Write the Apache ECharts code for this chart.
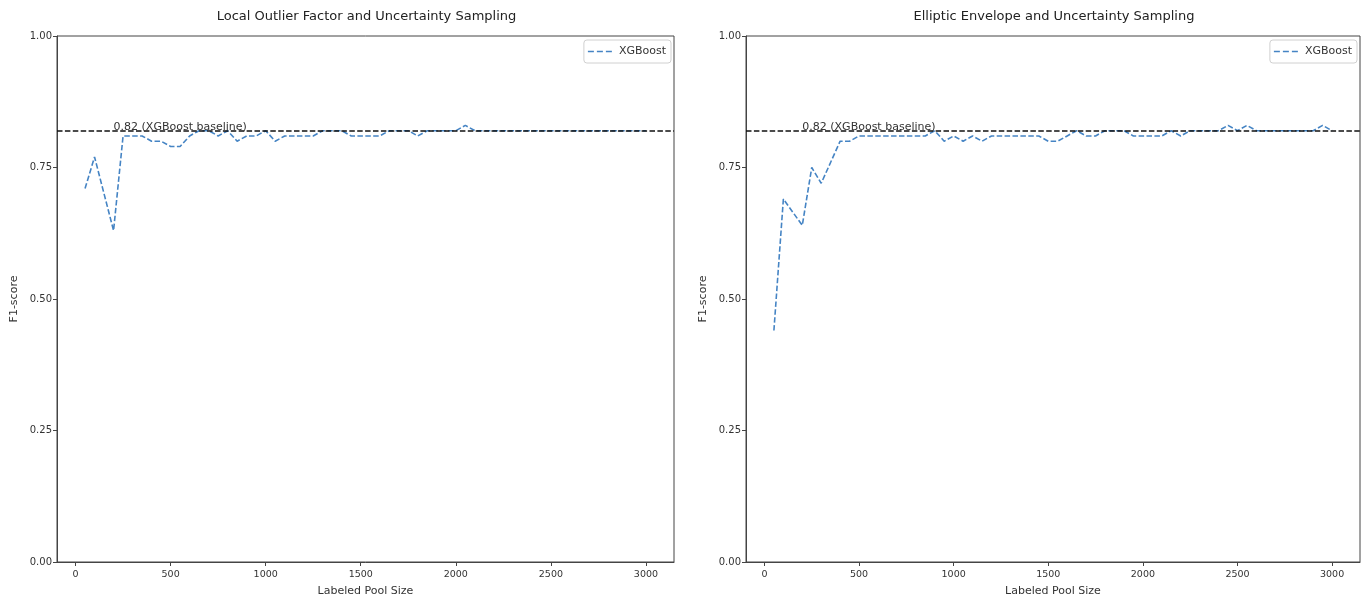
<!DOCTYPE html>
<html>
<head>
<meta charset="utf-8">
<title>F1-score vs Labeled Pool Size</title>
<script src="https://cdn.jsdelivr.net/npm/echarts@6/dist/echarts.min.js"></script>
<style>
  html, body { margin: 0; padding: 0; background: #fff; }
  #chart { width: 1368px; height: 599px; }
</style>
</head>
<body>
<div id="chart"></div>
<script>
// Labeled pool sizes shared by both panels
const poolSizes = [
  50, 100, 150, 200, 250, 300, 350, 400, 450, 500,
  550, 600, 650, 700, 750, 800, 850, 900, 950, 1000,
  1050, 1100, 1150, 1200, 1250, 1300, 1350, 1400, 1450, 1500,
  1550, 1600, 1650, 1700, 1750, 1800, 1850, 1900, 1950, 2000,
  2050, 2100, 2150, 2200, 2250, 2300, 2350, 2400, 2450, 2500,
  2550, 2600, 2650, 2700, 2750, 2800, 2850, 2900, 2950, 3000
];

// XGBoost F1-score, Local Outlier Factor + uncertainty sampling
const lofScores = [
  0.71, 0.77, 0.70, 0.63, 0.81, 0.81, 0.81, 0.80, 0.80, 0.79,
  0.79, 0.81, 0.82, 0.82, 0.81, 0.82, 0.80, 0.81, 0.81, 0.82,
  0.80, 0.81, 0.81, 0.81, 0.81, 0.82, 0.82, 0.82, 0.81, 0.81,
  0.81, 0.81, 0.82, 0.82, 0.82, 0.81, 0.82, 0.82, 0.82, 0.82,
  0.83, 0.82, 0.82, 0.82, 0.82, 0.82, 0.82, 0.82, 0.82, 0.82,
  0.82, 0.82, 0.82, 0.82, 0.82, 0.82, 0.82, 0.82, 0.82, 0.82
];

// XGBoost F1-score, Elliptic Envelope + uncertainty sampling
const eeScores = [
  0.44, 0.69, 0.665, 0.64, 0.75, 0.72, 0.76, 0.80, 0.80, 0.81,
  0.81, 0.81, 0.81, 0.81, 0.81, 0.81, 0.81, 0.82, 0.80, 0.81,
  0.80, 0.81, 0.80, 0.81, 0.81, 0.81, 0.81, 0.81, 0.81, 0.80,
  0.80, 0.81, 0.82, 0.81, 0.81, 0.82, 0.82, 0.82, 0.81, 0.81,
  0.81, 0.81, 0.82, 0.81, 0.82, 0.82, 0.82, 0.82, 0.83, 0.82,
  0.83, 0.82, 0.82, 0.82, 0.82, 0.82, 0.82, 0.82, 0.83, 0.82
];

const baselineF1 = 0.82;
const baselineText = '0.82 (XGBoost baseline)';
const baselineTextX = 200;

const panelTitles = [
  'Local Outlier Factor and Uncertainty Sampling',
  'Elliptic Envelope and Uncertainty Sampling'
];
const xTicks = [0, 500, 1000, 1500, 2000, 2500, 3000];
const yTicks = [0, 0.25, 0.5, 0.75, 1];
const seriesName = 'XGBoost';

const FONT = 'DejaVu Sans';
const TEXT = '#333';
const FRAME = '#444';
const BLUE = '#4584c4';

// three short dashes, used as the legend key of the dashed line
const DASH_ICON = 'path://M0,0h6v1.6h-6z M9,0h6v1.6h-6z M18,0h6v1.6h-6z';

const grids = [
  { left: 57, top: 36, width: 617, height: 526 },
  { left: 746, top: 36, width: 614, height: 526 }
];

function xAxisFor(i) {
  return {
    type: 'value', gridIndex: i,
    min: -97.5, max: 3147.5,
    name: 'Labeled Pool Size', nameLocation: 'middle', nameGap: 24,
    nameTextStyle: { fontFamily: FONT, fontSize: 11, color: TEXT },
    axisLine: { show: true, onZero: false, lineStyle: { color: FRAME, width: 1 } },
    axisTick: { show: true, length: 4, customValues: xTicks, lineStyle: { color: FRAME } },
    axisLabel: {
      customValues: xTicks, margin: 8, fontFamily: FONT, fontSize: 9.5, color: TEXT,
      formatter: v => String(v)
    },
    splitLine: { show: false }
  };
}

function yAxisFor(i) {
  return {
    type: 'value', gridIndex: i,
    min: 0, max: 1, interval: 0.25,
    name: 'F1-score', nameLocation: 'middle', nameGap: 37, nameRotate: 90,
    nameTextStyle: { fontFamily: FONT, fontSize: 11, color: TEXT },
    axisLine: { show: true, onZero: false, lineStyle: { color: FRAME, width: 1 } },
    axisTick: { show: true, length: 4, customValues: yTicks, lineStyle: { color: FRAME } },
    axisLabel: {
      customValues: yTicks, margin: 5, fontFamily: FONT, fontSize: 10, color: TEXT,
      formatter: v => v.toFixed(2)
    },
    splitLine: { show: false }
  };
}

function seriesFor(i, scores) {
  return {
    name: seriesName, type: 'line',
    xAxisIndex: i, yAxisIndex: i,
    data: poolSizes.map((x, k) => [x, scores[k]]),
    symbol: 'none', smooth: false,
    lineStyle: { color: BLUE, width: 1.6, type: [5.5, 2.4] },
    itemStyle: { color: BLUE },
    z: 3,
    markLine: {
      silent: true, symbol: 'none',
      label: { show: false },
      lineStyle: { color: '#111', width: 1.5, type: [5.5, 2.4] },
      data: [{ yAxis: baselineF1 }],
      z: 4
    },
    markPoint: {
      silent: true,
      symbol: 'rect', symbolSize: 0,
      data: [{ coord: [baselineTextX, baselineF1] }],
      label: {
        show: true, formatter: baselineText,
        position: [0, 2], align: 'left', verticalAlign: 'bottom',
        fontFamily: FONT, fontSize: 11, color: TEXT
      }
    }
  };
}

const chart = echarts.init(document.getElementById('chart'), null, { renderer: 'canvas' });

chart.setOption({
  backgroundColor: '#fff',
  animation: false,
  title: panelTitles.map((t, i) => ({
    text: t,
    left: grids[i].left + grids[i].width / 2 - 4,
    textAlign: 'center',
    top: 5,
    textStyle: { fontFamily: FONT, fontSize: 13, fontWeight: 'normal', color: '#222' }
  })),
  legend: grids.map((g, i) => ({
    data: [{ name: seriesName, icon: DASH_ICON }],
    right: 1368 - (g.left + g.width) + 3,
    top: g.top + 4,
    orient: 'vertical',
    itemWidth: 24, itemHeight: 2, itemGap: 4,
    padding: [6, 5, 6, 4],
    borderColor: '#d0d0d0', borderWidth: 1, borderRadius: 3,
    backgroundColor: 'rgba(255,255,255,0.85)',
    itemStyle: { color: BLUE },
    textStyle: { fontFamily: FONT, fontSize: 11, color: TEXT, padding: [0, 0, 0, 2] },
    selectedMode: false
  })),
  grid: grids.map(g => ({
    left: g.left, top: g.top, width: g.width, height: g.height,
    outerBoundsMode: 'none', containLabel: false,
    show: true, borderColor: FRAME, borderWidth: 1, backgroundColor: 'transparent'
  })),
  xAxis: [xAxisFor(0), xAxisFor(1)],
  yAxis: [yAxisFor(0), yAxisFor(1)],
  series: [seriesFor(0, lofScores), seriesFor(1, eeScores)]
});
</script>
</body>
</html>
